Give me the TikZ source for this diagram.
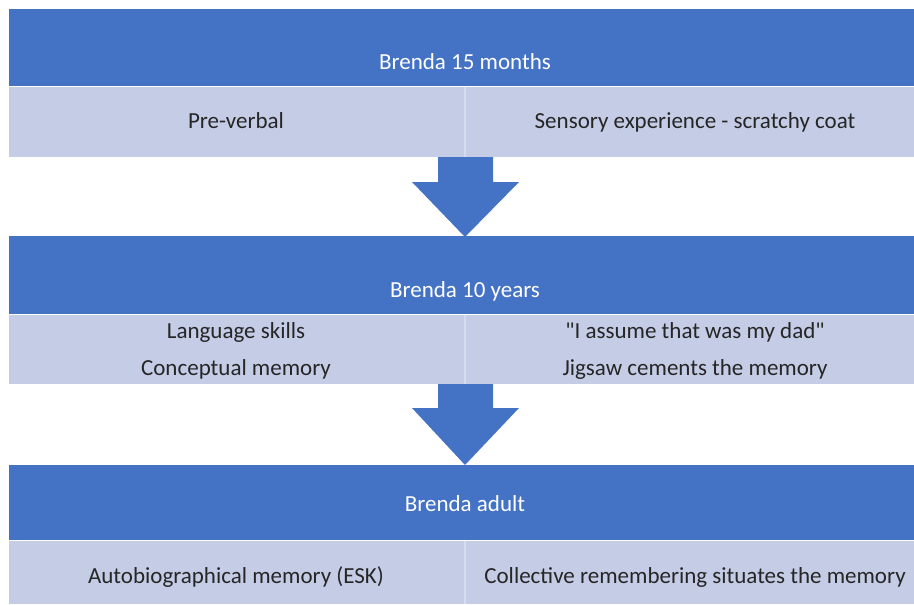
\documentclass[tikz,border=0pt]{standalone}
\usepackage{fontspec}
\setmainfont{Carlito}
\definecolor{hdrblue}{RGB}{68,114,196}
\definecolor{bandblue}{RGB}{197,204,230}
\definecolor{seamblue}{RGB}{214,219,238}

\begin{document}
\begin{tikzpicture}[x=1pt, y=-1pt, every node/.style={font=\fontsize{23}{27}\selectfont, inner sep=0pt, anchor=base},
	hdrtext/.style={text=white},
	celltext/.style={text=black!85}]
	\useasboundingbox (0,0) rectangle (914,605);
	% stage 1
	\fill[hdrblue] (9,9) rectangle (914,86);
	\fill[bandblue] (9,87) rectangle (914,157);
	\draw[seamblue, line width=1.5pt] (465,87) -- (465,157);
	\node[hdrtext] (head1) at (465,69) {Brenda 15 months};
	\node[celltext] (left1) at (236,128) {Pre-verbal};
	\node[celltext] (right1) at (695,128) {Sensory experience - scratchy coat};
	% arrow
	\fill[hdrblue] (438,157) -- (493,157) -- (493,182) -- (519,182) -- (465,237) -- (412,182) -- (438,182) -- cycle;
	% stage 2
	\fill[hdrblue] (9,236) rectangle (914,314);
	\fill[bandblue] (9,315) rectangle (914,384);
	\draw[seamblue, line width=1.5pt] (465,315) -- (465,384);
	\node[hdrtext] (head2) at (465,297) {Brenda 10 years};
	\node[celltext] (left2a) at (236,338) {Language skills};
	\node[celltext] (left2b) at (236,375) {Conceptual memory};
	\node[celltext] (right2a) at (695,338) {\textquotedbl I assume that was my dad\textquotedbl};
	\node[celltext] (right2b) at (695,375) {Jigsaw cements the memory};
	% arrow
	\fill[hdrblue] (438,384) -- (493,384) -- (493,408) -- (519,408) -- (465,465) -- (412,408) -- (438,408) -- cycle;
	% stage 3
	\fill[hdrblue] (9,465) rectangle (914,540);
	\fill[bandblue] (9,541) rectangle (914,604);
	\draw[seamblue, line width=1.5pt] (465,541) -- (465,604);
	\node[hdrtext] (head3) at (465,511) {Brenda adult};
	\node[celltext] (left3) at (236,583) {Autobiographical memory (ESK)};
	\node[celltext] (right3) at (695,583) {Collective remembering situates the memory};
\end{tikzpicture}
\end{document}
